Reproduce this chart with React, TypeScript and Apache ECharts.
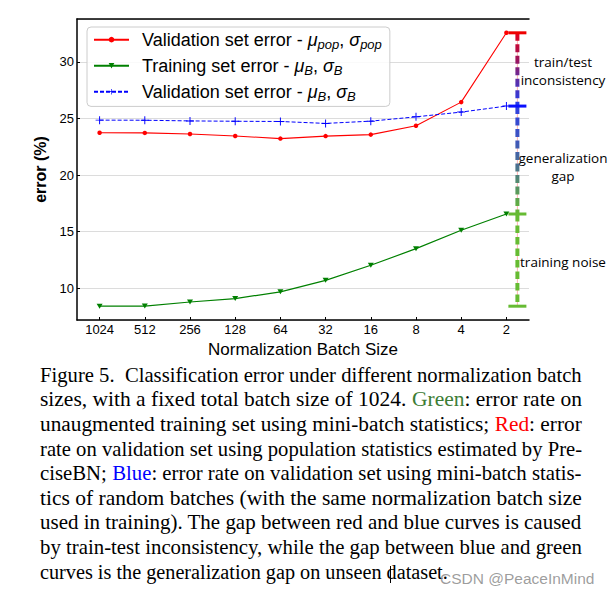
import React, { useEffect, useRef } from 'react';
import * as echarts from 'echarts';

const categories = ['1024', '512', '256', '128', '64', '32', '16', '8', '4', '2'];
const redPop = [23.73, 23.72, 23.62, 23.45, 23.22, 23.44, 23.57, 24.35, 26.44, 32.56];
const greenTrain = [8.42, 8.43, 8.79, 9.09, 9.69, 10.7, 12.03, 13.5, 15.13, 16.56];
const blueVal = [24.85, 24.84, 24.78, 24.75, 24.73, 24.56, 24.76, 25.14, 25.56, 26.09];

const legendNames = ['pop', 'train', 'val'];
const legendLabels: Record<string, string> = {
  pop: '{n|Validation set error - }{i|\u03bc}{s|pop}{n|, }{i|\u03c3}{s|pop}',
  train: '{n|Training set error - }{i|\u03bc}{s|B}{n|, }{i|\u03c3}{s|B}',
  val: '{n|Validation set error - }{i|\u03bc}{s|B}{n|, }{i|\u03c3}{s|B}',
};

const captionLines = [
  'Figure 5.  Classification error under different normalization batch',
  'sizes, with a fixed total batch size of 1024. {g|Green}: error rate on',
  'unaugmented training set using mini-batch statistics; {r|Red}: error',
  'rate on validation set using population statistics estimated by Pre-',
  'ciseBN; {b|Blue}: error rate on validation set using mini-batch statis-',
  'tics of random batches (with the same normalization batch size',
  'used in training). The gap between red and blue curves is caused',
  'by train-test inconsistency, while the gap between blue and green',
  'curves is the generalization gap on unseen dataset.',
];

const annotations = [
  { text: 'train/test\ninconsistency', y: 71 },
  { text: 'generalization\ngap', y: 167 },
  { text: 'training noise', y: 262 },
];

function measure(text: string, font: string): number {
  const c = document.createElement('canvas').getContext('2d');
  if (!c) return 1;
  c.font = font;
  return c.measureText(text).width;
}

export default function App() {
  const ref = useRef<HTMLDivElement>(null);
  useEffect(() => {
    const chart = echarts.init(ref.current!, null, { renderer: 'svg' });

    const capLeft = 40;
    const capRight = 582;
    const capFont = '20px "Liberation Serif"';
    const captionGraphics = captionLines.map((line, i) => {
      const plain = line.replace(/\{[a-z]\|([^}]*)\}/g, '$1');
      const w = measure(plain, capFont);
      const last = i === captionLines.length - 1;
      const target = last ? 408 : capRight - capLeft;
      return {
        type: 'text',
        x: capLeft,
        y: 375 + 24.6 * i,
        scaleX: target / w,
        style: {
          text: line,
          fontFamily: 'Liberation Serif',
          fontSize: 20,
          fill: '#000',
          textAlign: 'left',
          textVerticalAlign: 'middle',
          rich: {
            g: { fontFamily: 'Liberation Serif', fontSize: 20, fill: '#3d7d36', color: '#3d7d36' },
            r: { fontFamily: 'Liberation Serif', fontSize: 20, fill: '#ff0000', color: '#ff0000' },
            b: { fontFamily: 'Liberation Serif', fontSize: 20, fill: '#0000ff', color: '#0000ff' },
          },
        },
      };
    });

    const annoGraphics = annotations.map((a) => ({
      type: 'text',
      x: 563,
      y: a.y,
      style: {
        text: a.text,
        fontFamily: 'Open Sans',
        fontSize: 13.5,
        lineHeight: 17.5,
        fill: '#000',
        textAlign: 'center',
        textVerticalAlign: 'middle',
      },
    }));

    const last = categories.length - 1;
    const errBar = [[last, redPop[last], blueVal[last], greenTrain[last], Math.min(...greenTrain)]];

    const axisFont = { fontFamily: 'Liberation Sans', fontSize: 13, color: '#000' };

    const option: any = {
      animation: false,
      backgroundColor: '#fff',
      grid: { left: 77, right: 82, top: 19, bottom: 274, containLabel: false },
      legend: {
        data: legendNames,
        orient: 'vertical',
        left: 87,
        top: 27,
        padding: [3.7, 8, 3.7, 6],
        itemWidth: 35,
        itemHeight: 7,
        itemGap: 6,
        backgroundColor: 'rgba(255,255,255,0.85)',
        borderColor: '#cccccc',
        borderWidth: 1,
        borderRadius: 4,
        formatter: (name: string) => legendLabels[name],
        textStyle: {
          padding: [0, 0, 0, 8],
          rich: {
            n: { fontFamily: 'Liberation Sans', fontSize: 18, lineHeight: 22, color: '#000' },
            i: { fontFamily: 'Liberation Sans', fontSize: 18, fontStyle: 'italic', lineHeight: 22, color: '#000' },
            s: { fontFamily: 'Liberation Sans', fontSize: 13, fontStyle: 'italic', lineHeight: 13, verticalAlign: 'bottom', color: '#000' },
          },
        },
      },
      xAxis: [
        {
          type: 'category',
          data: categories,
          boundaryGap: true,
          name: 'Normalization Batch Size',
          nameLocation: 'middle',
          nameGap: 11,
          nameTextStyle: { fontFamily: 'Liberation Sans', fontSize: 17, color: '#000' },
          axisLine: { lineStyle: { color: '#000', width: 1.5 } },
          axisTick: { show: true, inside: true, length: 3, alignWithLabel: true, lineStyle: { color: '#000' } },
          axisLabel: { ...axisFont, margin: 3, interval: 0 },
          splitLine: { show: false },
        },
        {
          type: 'category',
          data: categories,
          position: 'top',
          boundaryGap: true,
          axisLine: { lineStyle: { color: '#000', width: 1.5 } },
          axisTick: { show: false },
          axisLabel: { show: false },
          splitLine: { show: false },
        },
      ],
      yAxis: {
        type: 'value',
        min: 7.2,
        max: 33.78,
        splitNumber: 5,
        name: 'error (%)',
        nameLocation: 'middle',
        nameGap: 17,
        nameTextStyle: { fontFamily: 'Liberation Sans', fontSize: 16, fontWeight: 'bold', color: '#000' },
        axisLine: { show: true, lineStyle: { color: '#000', width: 1.5 } },
        axisTick: { show: true, inside: true, length: 3, lineStyle: { color: '#000' } },
        axisLabel: { ...axisFont, margin: 3, showMinLabel: false, showMaxLabel: false },
        splitLine: { show: true, lineStyle: { color: '#dcdcdc', width: 1 } },
      },
      series: [
        {
          name: 'pop',
          type: 'line',
          data: redPop,
          color: '#ff0000',
          symbol: 'circle',
          symbolSize: 4.5,
          lineStyle: { color: '#ff0000', width: 1.1 },
          itemStyle: { color: '#ff0000' },
          z: 3,
        },
        {
          name: 'train',
          type: 'line',
          data: greenTrain,
          color: '#008000',
          symbol: 'triangle',
          symbolRotate: 180,
          symbolSize: [6, 5],
          lineStyle: { color: '#008000', width: 1.2 },
          itemStyle: { color: '#008000' },
          z: 3,
        },
        {
          name: 'val',
          type: 'line',
          data: blueVal,
          color: '#0000ff',
          symbol: 'path://M0,4.4H10V5.6H0Z M4.4,0H5.6V10H4.4Z',
          symbolSize: 8,
          lineStyle: { color: '#0000ff', width: 1, type: [4, 2] },
          itemStyle: { color: '#0000ff' },
          z: 3,
        },
        {
          name: 'gap',
          type: 'custom',
          data: errBar,
          encode: { x: 0, y: [1, 2, 3, 4] },
          z: 4,
          renderItem: (params: any, api: any) => {
            const idx = api.value(0);
            const p1 = api.coord([idx, api.value(1)]);
            const p2 = api.coord([idx, api.value(2)]);
            const p3 = api.coord([idx, api.value(3)]);
            const p4 = api.coord([idx, api.value(4)]);
            const x = p1[0] + 11;
            const capHalf = 9;
            const seg = (ya: number, yb: number, stroke: any, dash: number[]) => ({
              type: 'line',
              shape: { x1: x, y1: ya, x2: x, y2: yb },
              style: { stroke, lineWidth: 4, lineDash: dash },
            });
            const cap = (y: number, color: string) => ({
              type: 'line',
              shape: { x1: x - capHalf, y1: y, x2: x + capHalf, y2: y },
              style: { stroke: color, lineWidth: 3 },
            });
            const g1 = new echarts.graphic.LinearGradient(x, p1[1], x, p2[1], [
              { offset: 0, color: '#e4001c' },
              { offset: 0.35, color: '#a01258' },
              { offset: 0.65, color: '#5c2fa8' },
              { offset: 1, color: '#2240ee' },
            ], true);
            const g2 = new echarts.graphic.LinearGradient(x, p2[1], x, p3[1], [
              { offset: 0, color: '#2f3fe0' },
              { offset: 0.3, color: '#3d55c0' },
              { offset: 0.55, color: '#4a7090' },
              { offset: 0.8, color: '#5a9a5a' },
              { offset: 1, color: '#66bb33' },
            ], true);
            return {
              type: 'group',
              children: [
                {
                  type: 'line',
                  shape: { x1: x, y1: p1[1], x2: x, y2: p4[1] },
                  style: { stroke: '#ffb3b3', lineWidth: 1 },
                },
                seg(p1[1], p2[1], g1, [8, 3.5]),
                seg(p2[1], p3[1], g2, [8, 3.5]),
                seg(p3[1], p4[1], '#66bb33', [7.5, 4]),
                cap(p1[1], '#ee0000'),
                cap(p2[1], '#0a10ff'),
                cap(p3[1], '#66bb33'),
                cap(p4[1], '#66bb33'),
              ],
            };
          },
        },
      ],
      graphic: [
        ...annoGraphics,
        ...captionGraphics,
        {
          type: 'line',
          shape: { x1: 390.5, y1: 566, x2: 390.5, y2: 583 },
          style: { stroke: '#000', lineWidth: 1 },
        },
        {
          type: 'text',
          x: 440,
          y: 578,
          style: {
            text: 'CSDN @PeaceInMind',
            fontFamily: 'Liberation Sans',
            fontSize: 15.5,
            fill: 'rgba(140,140,140,0.85)',
            textAlign: 'left',
            textVerticalAlign: 'middle',
          },
        },
      ],
    };

    chart.setOption(option);
    return () => chart.dispose();
  }, []);

  return (
    <div
      ref={ref}
      style={{ position: 'absolute', left: 0, top: 0, width: 611, height: 594, background: '#fff' }}
    />
  );
}
